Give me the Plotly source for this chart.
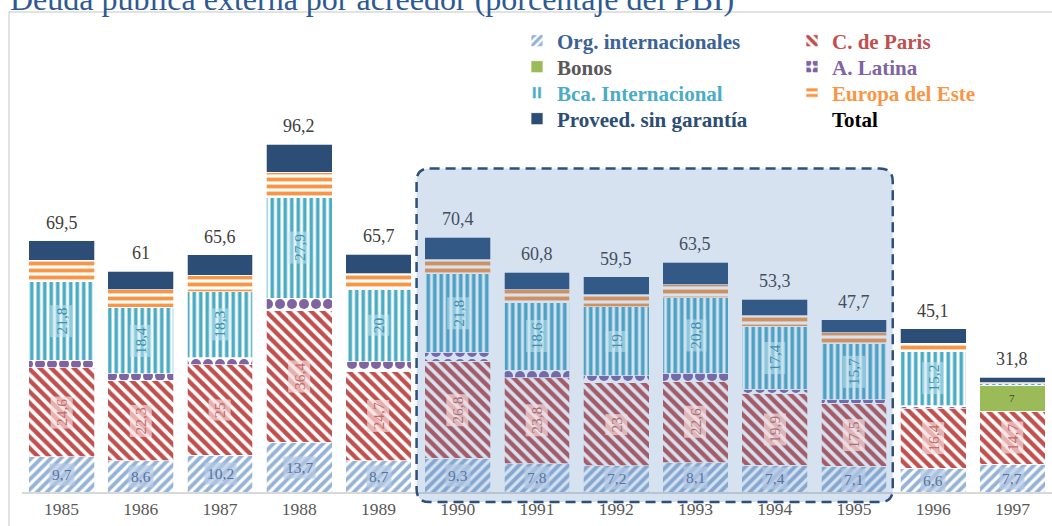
import plotly.graph_objects as go

# ---------------- data ----------------
years = [1985, 1986, 1987, 1988, 1989, 1990, 1991, 1992, 1993, 1994, 1995, 1996, 1997]
year_labels = [str(y) for y in years]

org_int = [9.7, 8.6, 10.2, 13.7, 8.7, 9.3, 7.8, 7.2, 8.1, 7.4, 7.1, 6.6, 7.7]
c_paris = [24.6, 22.3, 25.0, 36.4, 24.7, 26.8, 23.8, 23.0, 22.6, 19.9, 17.5, 16.4, 14.7]
bonos = [0, 0, 0, 0, 0, 0, 0, 0, 0, 0, 0, 0, 7.0]
a_latina = [2.1, 1.8, 1.9, 3.5, 2.6, 2.5, 2.1, 2.0, 2.2, 1.1, 0.9, 0.8, 0.1]
bca_int = [21.8, 18.4, 18.3, 27.9, 20.0, 21.8, 18.6, 19.0, 20.8, 17.4, 15.7, 15.2, 0.5]
europa_este = [5.9, 4.8, 4.6, 7.0, 4.4, 3.8, 3.7, 3.4, 3.6, 2.9, 2.8, 2.1, 0.2]
proveed = [5.4, 5.1, 5.6, 7.7, 5.3, 6.2, 4.8, 4.9, 6.2, 4.6, 3.7, 4.0, 1.6]
total = [69.5, 61, 65.6, 96.2, 65.7, 70.4, 60.8, 59.5, 63.5, 53.3, 47.7, 45.1, 31.8]

highlight_years = (1990, 1995)

# ---------------- styling ----------------
SERIF = "Liberation Serif, Times New Roman, serif"
X_RANGE = (1984.5, 1997.5)
Y_RANGE = (0, 130)
ML, MT, MB = 22, 22, 34
PLOT_W, PLOT_H = 1052 - ML, 526 - MT - MB
BASE_Y = MT + PLOT_H  # pixel row of the x axis


def fmt(v):
    return f"{v:g}".replace(".", ",")


def hex_rgb(h):
    h = h.lstrip("#")
    return tuple(int(h[i:i + 2], 16) for i in (0, 2, 4))


OVER = (79, 129, 189)
OVER_A = 0.23


def tint(h, year):
    """colour as seen under the translucent highlight box"""
    r, g, b = hex_rgb(h)
    if highlight_years[0] <= year <= highlight_years[1]:
        r, g, b = [round(c * (1 - OVER_A) + o * OVER_A) for c, o in zip((r, g, b), OVER)]
    return f"rgb({r},{g},{b})"


def paper_x(pix):
    return (pix - ML) / PLOT_W


def paper_y(pix):
    return (BASE_Y - pix) / PLOT_H


series = [
    dict(name="Org. internacionales", vals=org_int, color="#95b3d7", shape="/", size=7,
         text="#3a6496", legend="legend"),
    dict(name="C. de Paris", vals=c_paris, color="#c0504d", shape="\\", size=8,
         text="#c0504d", legend="legend2"),
    dict(name="Bonos", vals=bonos, color="#9bbb59", shape="", size=8,
         text="#595959", legend="legend3"),
    dict(name="A. Latina", vals=a_latina, color="#8064a2", shape=".", size=12,
         text="#8064a2", legend="legend4"),
    dict(name="Bca. Internacional", vals=bca_int, color="#4bacc6", shape="|", size=6.5,
         text="#4bacc6", legend="legend5"),
    dict(name="Europa del Este", vals=europa_este, color="#f79646", shape="-", size=7,
         text="#f79646", legend="legend6"),
    dict(name="Proveed. sin garantía", vals=proveed, color="#2c4d75", shape="", size=8,
         text="#2c4d75", legend="legend7"),
]

fig = go.Figure()

for s in series:
    if s["shape"]:
        pattern = dict(shape=s["shape"], size=s["size"], solidity=0.55,
                       fgcolor=s["color"], bgcolor="white", fillmode="replace")
    else:
        pattern = dict(shape="")
    fig.add_trace(go.Bar(
        x=years, y=s["vals"], width=0.83,
        name=f"<b><span style='color:{s['text']}'>{s['name']}</span></b>",
        legend=s["legend"],
        marker=dict(color=s["color"], pattern=pattern,
                    line=dict(color="rgba(255,255,255,0.9)", width=0.8)),
        hoverinfo="skip",
    ))

# legend entry "Total" (no visible symbol)
fig.add_trace(go.Scatter(
    x=[years[0]], y=[0], mode="lines", line=dict(width=0, color="rgba(0,0,0,0)"),
    name="<b><span style='color:#000000'>Total</span></b>", legend="legend8",
    hoverinfo="skip",
))

annotations = []

# total labels above the bars
for yr, t in zip(years, total):
    annotations.append(dict(
        x=yr, y=t, xref="x", yref="y", yanchor="bottom", yshift=6,
        text=fmt(t), showarrow=False,
        font=dict(family=SERIF, size=18, color=tint("#404040", yr)),
    ))

# ---------------- in-bar labels (with soft halo) ----------------
stack_bottom = [0.0] * len(years)
label_cfg = {
    "Org. internacionales": dict(angle=0, color="#56739c", bg="rgba(180,200,228,0.7)", size=15.5),
    "C. de Paris": dict(angle=-90, color="#c46a68", bg="rgba(245,218,218,0.7)", size=15.5),
    "Bca. Internacional": dict(angle=-90, color="#3a92ab", bg="rgba(196,230,240,0.55)", size=15.5),
    "Bonos": dict(angle=0, color="#404040", bg="rgba(0,0,0,0)", size=11),
}
for s in series:
    cfg = label_cfg.get(s["name"])
    for i, (yr, v) in enumerate(zip(years, s["vals"])):
        if cfg and v >= 5:
            annotations.append(dict(
                x=yr, y=stack_bottom[i] + v / 2, xref="x", yref="y",
                text=fmt(v), showarrow=False, textangle=cfg["angle"],
                font=dict(family=SERIF, size=cfg["size"], color=tint(cfg["color"], yr)),
                bgcolor=cfg["bg"], borderpad=2,
            ))
        stack_bottom[i] += v

# title (partly cut at the top, as in the reference)
annotations.append(dict(
    x=paper_x(8), y=paper_y(19), xref="paper", yref="paper",
    xanchor="left", yanchor="bottom", showarrow=False,
    text="Deuda pública externa por acreedor (porcentaje del PBI)",
    font=dict(family=SERIF, size=32, color="#2e5a94"),
))


# ---------------- shapes ----------------
def px(xv):
    return (xv - X_RANGE[0]) / (X_RANGE[1] - X_RANGE[0])


def py(yv):
    return (yv - Y_RANGE[0]) / (Y_RANGE[1] - Y_RANGE[0])


bx0, bx1 = px(1989.48), px(1995.49)
by0, by1 = py(-2.8), py(89.5)
rx, ry = 13 / PLOT_W, 13 / PLOT_H
box_path = (
    f"M {bx0 + rx},{by1} L {bx1 - rx},{by1} Q {bx1},{by1} {bx1},{by1 - ry} "
    f"L {bx1},{by0 + ry} Q {bx1},{by0} {bx1 - rx},{by0} "
    f"L {bx0 + rx},{by0} Q {bx0},{by0} {bx0},{by0 + ry} "
    f"L {bx0},{by1 - ry} Q {bx0},{by1} {bx0 + rx},{by1} Z"
)

shapes = [
    # chart frame
    dict(type="rect", xref="paper", yref="paper",
         x0=paper_x(9), x1=1.05, y0=-0.2, y1=paper_y(12),
         line=dict(color="#d9d9d9", width=1.5), fillcolor="rgba(0,0,0,0)", layer="below"),
    # highlight box
    dict(type="path", xref="paper", yref="paper", path=box_path,
         fillcolor=f"rgba({OVER[0]},{OVER[1]},{OVER[2]},{OVER_A})",
         line=dict(color="#2e4f7a", width=2.5, dash="10px,6px"), layer="above"),
]

# one legend per entry, laid out as the 2-column grid of the reference
legend_cols = [517, 792]          # legend left edges (pixels)
legend_rows = [41, 67, 93, 119]   # row centres (pixels)
legend_layouts = {}
for k in range(8):
    key = "legend" if k == 0 else f"legend{k + 1}"
    legend_layouts[key] = dict(
        x=paper_x(legend_cols[k % 2]), y=paper_y(legend_rows[k // 2]),
        xanchor="left", yanchor="middle", bgcolor="rgba(0,0,0,0)",
        font=dict(family=SERIF, size=21), itemwidth=30, orientation="v",
    )

fig.update_layout(
    width=1052, height=526,
    margin=dict(l=ML, r=0, t=MT, b=MB),
    paper_bgcolor="white", plot_bgcolor="rgba(0,0,0,0)",
    barmode="stack",
    showlegend=True,
    xaxis=dict(range=list(X_RANGE), tickvals=years, ticktext=year_labels,
               showgrid=False, zeroline=False, showline=True, linecolor="#d9d9d9",
               linewidth=1.5, ticks="", ticklen=0,
               tickfont=dict(family=SERIF, size=17.5, color="#595959")),
    yaxis=dict(range=list(Y_RANGE), visible=False, showgrid=False),
    annotations=annotations,
    shapes=shapes,
    hovermode=False,
    **legend_layouts,
)

fig.write_html("out.html", config={"displayModeBar": False},
               post_script="document.body.style.margin='0';")
